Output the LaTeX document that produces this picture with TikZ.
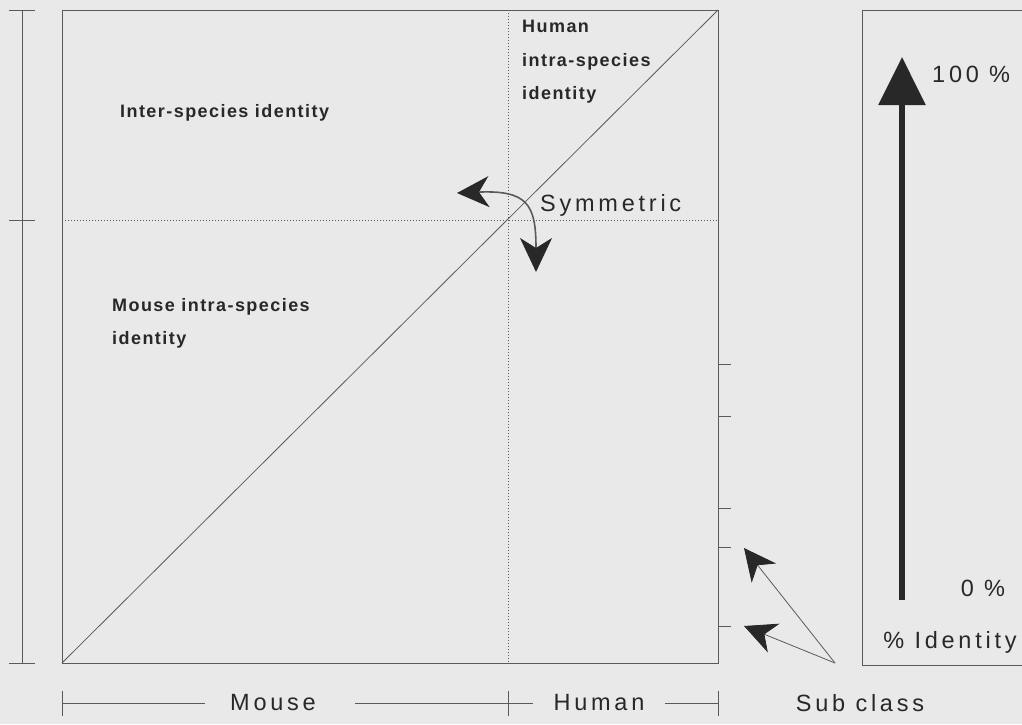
\documentclass[tikz,border=0pt]{standalone}
\usepackage{fontspec}
\setmainfont{Liberation Sans}
\newfontfamily\labfont[LetterSpace=8]{Liberation Sans}
\newfontfamily\bigfont[LetterSpace=16]{Liberation Sans}
\usetikzlibrary{arrows.meta}
\definecolor{bg}{RGB}{233,233,233}
\definecolor{ln}{RGB}{90,90,90}
\definecolor{tx}{RGB}{40,40,40}
\begin{document}
\begin{tikzpicture}[x=1pt,y=-1pt,
  thin line/.style={draw=ln,line width=1pt},
  dotline/.style={draw=ln,line width=0.8pt,dash pattern=on 1pt off 2pt},
  smalllab/.style={text=tx,font=\labfont\bfseries\fontsize{18}{33.5}\selectfont,inner sep=0pt,anchor=west,align=left},
  biglab/.style={text=tx,font=\bigfont\fontsize{23.5}{26}\selectfont,inner sep=0pt},
  bighead/.style={-{Stealth[length=32pt,width=31pt,inset=10pt,color=tx]}},
]
\fill[bg] (0,0) rectangle (1022,724);
\useasboundingbox (0,0) rectangle (1022,724);
% main box
\coordinate (BL) at (62,663);
\coordinate (TR) at (718,10);
\draw[thin line] (BL) rectangle (TR);
\draw[thin line,line width=0.8pt] (BL) -- (TR);
% dotted split lines
\coordinate (vt) at (508,10);
\coordinate (vb) at (508,663);
\coordinate (hl) at (62,220);
\coordinate (hr) at (718,220);
\draw[dotline] (vt) -- (vb);
\draw[dotline] (hl) -- (hr);
% left axis
\coordinate (la) at (22,10);
\coordinate (lb) at (22,663);
\draw[thin line] (la) -- (lb);
\foreach \yy in {10,220,663} \draw[thin line] (9,\yy) -- (35,\yy);
% bottom axis
\node[biglab] (mouse) at (273,703) {Mouse};
\node[biglab] (human) at (599,703) {Human};
\coordinate (b0) at (62,703);
\coordinate (b1) at (508,703);
\coordinate (b2) at (718,703);
\draw[thin line] (b0) -- (205,703);
\draw[thin line] (355,703) -- (b1) -- (533,703);
\draw[thin line] (665,703) -- (b2);
\foreach \xx in {62,508,718} \draw[thin line] (\xx,691) -- (\xx,716);
% right ticks
\foreach \yy in {364,416,508,547,626} \draw[thin line] (718,\yy) -- (731,\yy);
% labels in box
\node[smalllab] (inter) at (120,113) {Inter-species identity};
\node[smalllab,anchor=north west] (mouseid) at (112,298) {Mouse intra-species\\identity};
\node[smalllab,anchor=north west] (humanid) at (522,20) {Human\\intra-species\\identity};
\node[biglab,anchor=west] (sym) at (540,205) {Symmetric};
% symmetric arrows
\coordinate (symL) at (457,193);
\coordinate (symD) at (536,272);
\draw[draw=ln,line width=1.6pt,{Stealth[length=32pt,width=31pt,inset=10pt,color=tx]}-{Stealth[length=34pt,width=32pt,inset=10pt,color=tx]}] (symL) .. controls (528,190) and (536,205) .. (symD);
% sub class arrows
\node[biglab] (sub) at (860,703) {Sub class};
\coordinate (so) at (835,663);
\coordinate (s1) at (744,548);
\coordinate (s2) at (744,626);
\draw[draw=ln,line width=0.8pt,bighead] (so) -- (s1);
\draw[draw=ln,line width=0.8pt,bighead] (so) -- (s2);
% right box
\draw[thin line] (1040,10) -- (862,10) -- (862,665) -- (1040,665);
\coordinate (ib) at (902,600);
\coordinate (it) at (902,57);
\draw[draw=tx,line width=6pt,-{Triangle[length=48pt,width=46pt,inset=0pt]}] (ib) -- (it);
\node[biglab,anchor=west] (p100) at (932,74) {100 \%};
\node[biglab] (p0) at (983,588) {0 \%};
\node[biglab] (pid) at (950,642) {\% Identity};
\end{tikzpicture}
\end{document}
